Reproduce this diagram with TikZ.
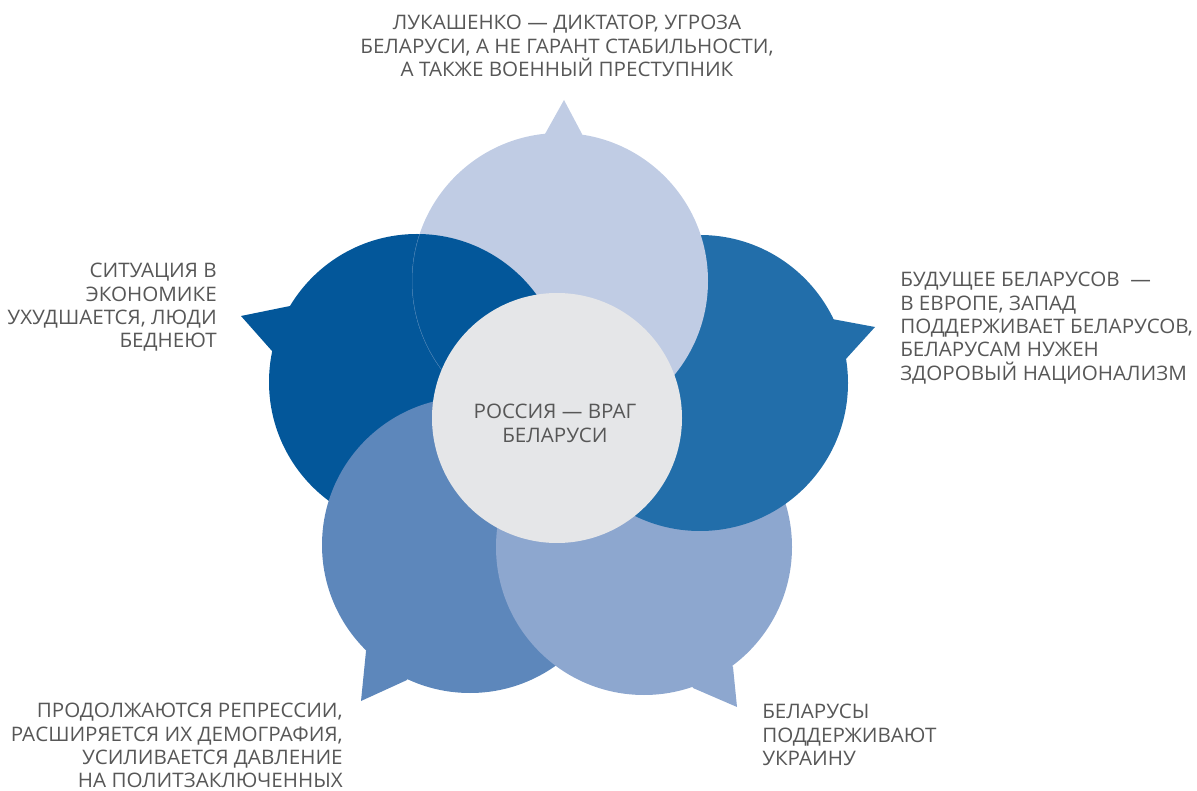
\documentclass[tikz,border=0pt]{standalone}
\usepackage{fontspec}
\setmainfont{Open Sans}[FakeStretch=1.03]
\definecolor{topc}{HTML}{C0CCE4}
\definecolor{rightc}{HTML}{226EAA}
\definecolor{brc}{HTML}{8DA7CF}
\definecolor{blc}{HTML}{5D87BB}
\definecolor{leftc}{HTML}{03579A}
\definecolor{centc}{HTML}{E5E6E8}
\definecolor{txt}{HTML}{575757}
\tikzset{
  lbl/.style={inner sep=0pt, text=txt, font=\fontsize{15}{17.5}\selectfont},
}
\begin{document}
\begin{tikzpicture}[x=0.75pt,y=-0.75pt]
\useasboundingbox (0,0) rectangle (1197,791);
% centres
\coordinate (T) at (560,281);
\coordinate (R) at (700,383);
\coordinate (BR) at (644,547);
\coordinate (BL) at (470,545);
\coordinate (L) at (417,382);
\coordinate (C) at (557,418);
% left bubble (bottom of the stack)
\fill[leftc] (L) circle [radius=111pt];
\fill[leftc] (290,306) -- (241,316) -- (272,351) -- (L) -- cycle;
% bottom-left bubble
\fill[blc] (BL) circle [radius=111pt];
\fill[blc] (366,651) -- (361,701) -- (407,680) -- (BL) -- cycle;
% bottom-right bubble
\fill[brc] (BR) circle [radius=111pt];
\fill[brc] (733,667) -- (737,707) -- (693,688) -- (BR) -- cycle;
% right bubble
\fill[rightc] (R) circle [radius=111pt];
\fill[rightc] (832,319) -- (875,327) -- (845,360) -- (R) -- cycle;
% top bubble
\fill[topc] (T) circle [radius=111pt];
\fill[topc] (545,134) -- (564,100) -- (582,134) -- (T) -- cycle;
% left bubble lies over the top bubble
\begin{scope}
  \clip (T) circle [radius=111pt];
  \fill[leftc] (L) circle [radius=111pt];
  \clip (L) circle [radius=111pt];
  \draw[line width=0.4pt, color=topc!40!leftc] (T) circle [radius=111pt];
\end{scope}
% centre
\fill[centc] (C) circle [radius=93.75pt];
% labels
\node[lbl, anchor=north, align=center] (ttop) at (567,15)
  {ЛУКАШЕНКО — ДИКТАТОР, УГРОЗА\\БЕЛАРУСИ, А НЕ ГАРАНТ СТАБИЛЬНОСТИ,\\А ТАКЖЕ ВОЕННЫЙ ПРЕСТУПНИК};
\node[lbl, anchor=north west, align=left] (tright) at (900,272)
  {БУДУЩЕЕ БЕЛАРУСОВ\ \ —\\В ЕВРОПЕ, ЗАПАД\\ПОДДЕРЖИВАЕТ БЕЛАРУСОВ,\\БЕЛАРУСАМ НУЖЕН\\ЗДОРОВЫЙ НАЦИОНАЛИЗМ};
\node[lbl, anchor=north east, align=right] (tleft) at (217,263)
  {СИТУАЦИЯ В\\ЭКОНОМИКЕ\\УХУДШАЕТСЯ, ЛЮДИ\\БЕДНЕЮТ};
\node[lbl, anchor=north east, align=right] (tbl) at (343,703)
  {ПРОДОЛЖАЮТСЯ РЕПРЕССИИ,\\РАСШИРЯЕТСЯ ИХ ДЕМОГРАФИЯ,\\УСИЛИВАЕТСЯ ДАВЛЕНИЕ\\НА ПОЛИТЗАКЛЮЧЕННЫХ};
\node[lbl, anchor=north west, align=left] (tbr) at (762,704)
  {БЕЛАРУСЫ\\ПОДДЕРЖИВАЮТ\\УКРАИНУ};
\node[lbl, anchor=north, align=center] (tc) at (555,404)
  {РОССИЯ — ВРАГ\\БЕЛАРУСИ};
\end{tikzpicture}
\end{document}
